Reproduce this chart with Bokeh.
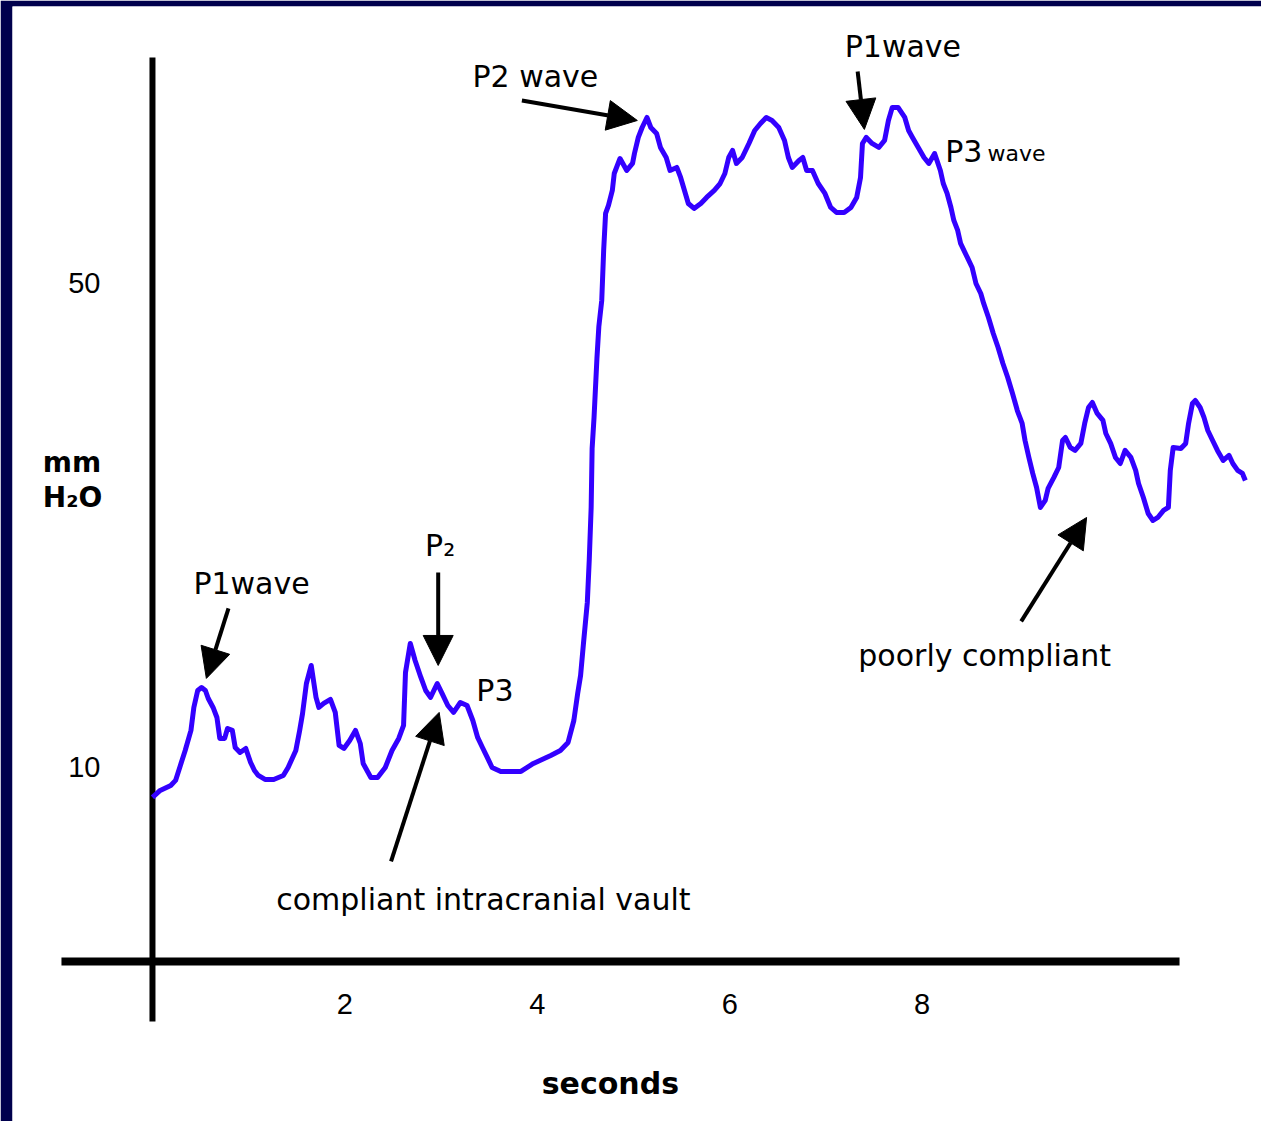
from bokeh.plotting import figure
from bokeh.models import Range1d, FixedTicker, Label, Arrow, NormalHead, ColumnDataSource
from bokeh.embed import file_html
from bokeh.resources import INLINE

# ---- data (seconds, mm H2O) ----
seconds = [0.00, 0.08, 0.19, 0.24, 0.29, 0.34, 0.40, 0.43, 0.47, 0.51, 0.55, 0.58, 0.63, 0.67, 0.70,
           0.75, 0.78, 0.83, 0.86, 0.91, 0.97, 1.02, 1.06, 1.10, 1.17, 1.26, 1.36, 1.41, 1.49, 1.53,
           1.56, 1.60, 1.65, 1.70, 1.73, 1.78, 1.85, 1.90, 1.94, 1.99, 2.05, 2.11, 2.16, 2.19, 2.27,
           2.34, 2.42, 2.49, 2.56, 2.61, 2.63, 2.68, 2.73, 2.79, 2.84, 2.89, 2.96, 3.01, 3.07, 3.13,
           3.20, 3.27, 3.33, 3.38, 3.43, 3.48, 3.53, 3.62, 3.83, 3.96, 4.14, 4.24, 4.32, 4.38, 4.42,
           4.45, 4.48, 4.52, 4.54, 4.56, 4.57, 4.59, 4.62, 4.64, 4.67, 4.69, 4.71, 4.74, 4.78, 4.80,
           4.86, 4.93, 4.99, 5.01, 5.05, 5.09, 5.14, 5.18, 5.24, 5.28, 5.34, 5.38, 5.45, 5.49, 5.53,
           5.57, 5.63, 5.70, 5.76, 5.84, 5.90, 5.95, 5.99, 6.03, 6.07, 6.13, 6.20, 6.26, 6.32, 6.38,
           6.44, 6.51, 6.57, 6.61, 6.65, 6.72, 6.76, 6.80, 6.86, 6.92, 6.99, 7.05, 7.11, 7.19, 7.26,
           7.32, 7.36, 7.38, 7.42, 7.48, 7.55, 7.61, 7.65, 7.69, 7.75, 7.82, 7.86, 7.90, 7.96, 8.02,
           8.07, 8.13, 8.19, 8.22, 8.26, 8.30, 8.33, 8.37, 8.40, 8.47, 8.52, 8.56, 8.61, 8.64, 8.69,
           8.74, 8.79, 8.84, 8.89, 8.94, 8.99, 9.04, 9.07, 9.11, 9.15, 9.19, 9.23, 9.28, 9.31, 9.37,
           9.42, 9.46, 9.49, 9.54, 9.59, 9.65, 9.69, 9.73, 9.77, 9.82, 9.88, 9.91, 9.96, 10.01, 10.06,
           10.11, 10.17, 10.22, 10.25, 10.30, 10.35, 10.40, 10.45, 10.51, 10.56, 10.58, 10.61, 10.69,
           10.74, 10.77, 10.81, 10.84, 10.89, 10.93, 10.97, 11.02, 11.07, 11.13, 11.19, 11.23, 11.28,
           11.33, 11.36]
pressure = [7.52, 8.10, 8.51, 8.93, 10.17, 11.40, 13.06, 14.96, 16.36, 16.61, 16.36, 15.70, 14.96, 14.13, 12.40,
            12.40, 13.22, 13.06, 11.65, 11.24, 11.57, 10.41, 9.75, 9.34, 9.01, 9.01, 9.34, 10.00, 11.40, 13.06,
            14.46, 16.94, 18.43, 15.79, 14.96, 15.29, 15.62, 14.55, 11.82, 11.57, 12.23, 13.06, 11.98, 10.33, 9.17,
            9.17, 10.00, 11.40, 12.40, 13.47, 17.85, 20.25, 18.84, 17.44, 16.36, 15.79, 16.94, 16.12, 15.12, 14.55,
            15.37, 15.12, 13.88, 12.48, 11.65, 10.83, 10.00, 9.67, 9.67, 10.33, 10.99, 11.40, 12.07, 13.88, 16.12,
            17.60, 20.25, 23.64, 27.11, 31.49, 36.36, 38.93, 43.80, 46.45, 48.60, 52.73, 55.79, 56.45, 57.69, 59.09,
            60.33, 59.34, 59.92, 60.74, 62.07, 62.89, 63.72, 62.89, 62.40, 61.24, 60.41, 59.34, 59.59, 58.76, 57.69,
            56.61, 56.20, 56.61, 57.11, 57.69, 58.26, 59.09, 60.41, 60.99, 59.92, 60.41, 61.57, 62.64, 63.22, 63.72,
            63.47, 62.89, 61.82, 60.41, 59.59, 60.17, 60.41, 59.34, 59.34, 58.26, 57.44, 56.28, 55.87, 55.87, 56.28,
            57.11, 58.76, 61.57, 62.07, 61.57, 61.24, 61.82, 63.47, 64.55, 64.55, 63.72, 62.64, 62.07, 61.24, 60.41,
            59.92, 60.74, 59.34, 58.26, 57.44, 56.28, 55.21, 54.38, 53.31, 52.15, 51.32, 50.00, 49.17, 48.35, 47.19,
            45.87, 44.71, 43.39, 42.23, 40.91, 39.50, 38.43, 37.02, 35.62, 34.30, 33.14, 31.49, 32.07, 33.06, 33.97,
            34.79, 37.02, 37.27, 36.45, 36.20, 36.78, 38.43, 39.75, 40.17, 39.26, 38.68, 37.60, 36.78, 35.62, 35.12,
            36.20, 35.62, 34.55, 33.47, 32.31, 30.99, 30.41, 30.66, 31.24, 31.49, 34.55, 36.45, 36.36,
            36.78, 38.43, 40.08, 40.33, 39.75, 38.93, 37.85, 37.02, 36.20, 35.37, 35.79, 35.12, 34.55,
            34.30, 33.72]

x_ticks = [2, 4, 6, 8]
y_ticks = [10, 50]
x_label = "seconds"
y_label_lines = ["mm", "H\u2082O"]

# axis cross: where the hand-drawn axes sit in data units
axis_x_at = 0.0
axis_y_at = -6.03
v_axis_y = [-10.99, 68.68]
h_axis_x = [-0.946, 10.676]

# annotation texts and their anchors (data units)
note_text = ["P1wave", "P\u2082", "P3", "compliant intracranial vault", "P2 wave", "P1wave", "poorly compliant"]
note_x = [1.03, 2.99, 3.56, 3.44, 3.98, 7.80, 8.65]
note_y = [25.2, 28.35, 16.4, -0.9, 67.1, 69.6, 19.26]

# arrows: tail -> head (data units)
arrow_x0 = [0.79, 2.97, 2.48, 3.84, 7.33, 9.03]
arrow_y0 = [23.14, 26.12, 2.23, 65.12, 67.52, 22.07]
arrow_x1 = [0.56, 2.97, 2.98, 5.04, 7.40, 9.71]
arrow_y1 = [17.36, 18.43, 14.55, 63.47, 62.73, 30.66]

FONT = "DejaVu Sans"

p = figure(width=1261, height=1121,
           x_range=Range1d(-1.455, 11.528), y_range=Range1d(-19.26, 72.89),
           output_backend="svg", toolbar_location=None, title=None,
           min_border=0, min_border_left=12, min_border_top=6,
           border_fill_color="#00004d", background_fill_color="white",
           outline_line_color=None)
p.grid.visible = False

# axes: only tick labels, placed at the axis cross
p.xaxis.fixed_location = axis_y_at
p.yaxis.fixed_location = axis_x_at
p.xaxis.ticker = FixedTicker(ticks=x_ticks, minor_ticks=[])
p.yaxis.ticker = FixedTicker(ticks=y_ticks, minor_ticks=[])
for ax in (p.xaxis, p.yaxis):
    ax.axis_line_color = None
    ax.major_tick_line_color = None
    ax.minor_tick_line_color = None
    ax.major_label_text_font = "Liberation Sans"
    ax.major_label_text_font_size = "29px"
    ax.major_label_text_color = "black"
p.xaxis.major_label_standoff = 27
p.yaxis.major_label_standoff = 46

# hand-drawn axis lines
p.segment(x0=[axis_x_at], y0=[v_axis_y[0]], x1=[axis_x_at], y1=[v_axis_y[1]],
          line_color="black", line_width=6)
p.segment(x0=[h_axis_x[0]], y0=[axis_y_at], x1=[h_axis_x[1]], y1=[axis_y_at],
          line_color="black", line_width=8)

# pressure trace
p.line(seconds, pressure, line_color="#3300ff", line_width=5, line_join="round")

# arrows
arrow_src = ColumnDataSource(dict(x0=arrow_x0, y0=arrow_y0, x1=arrow_x1, y1=arrow_y1))
p.add_layout(Arrow(end=NormalHead(size=30, fill_color="black", line_color="black"),
                   x_start="x0", y_start="y0", x_end="x1", y_end="y1",
                   line_color="black", line_width=4, source=arrow_src))

# annotation texts
for t, x, y in zip(note_text, note_x, note_y):
    p.add_layout(Label(x=x, y=y, text=t, text_font=FONT, text_font_size="30px",
                       text_align="center", text_baseline="middle", text_color="black"))
p.add_layout(Label(x=8.24, y=60.9, text="P3", text_font=FONT, text_font_size="30px",
                   text_align="left", text_baseline="middle", text_color="black"))
p.add_layout(Label(x=8.68, y=60.7, text="wave", text_font=FONT, text_font_size="22px",
                   text_align="left", text_baseline="middle", text_color="black"))

# axis titles
p.add_layout(Label(x=4.76, y=-16.1, text=x_label, text_font=FONT, text_font_size="30px",
                   text_font_style="bold", text_align="center", text_baseline="middle",
                   text_color="black"))
p.add_layout(Label(x=-1.14, y=35.2, text=y_label_lines[0], text_font=FONT, text_font_size="28px",
                   text_font_style="bold", text_align="left", text_baseline="middle",
                   text_color="black"))
p.add_layout(Label(x=-1.14, y=32.3, text=y_label_lines[1], text_font=FONT, text_font_size="28px",
                   text_font_style="bold", text_align="left", text_baseline="middle",
                   text_color="black"))

open("out.html", "w").write(file_html(p, INLINE))
